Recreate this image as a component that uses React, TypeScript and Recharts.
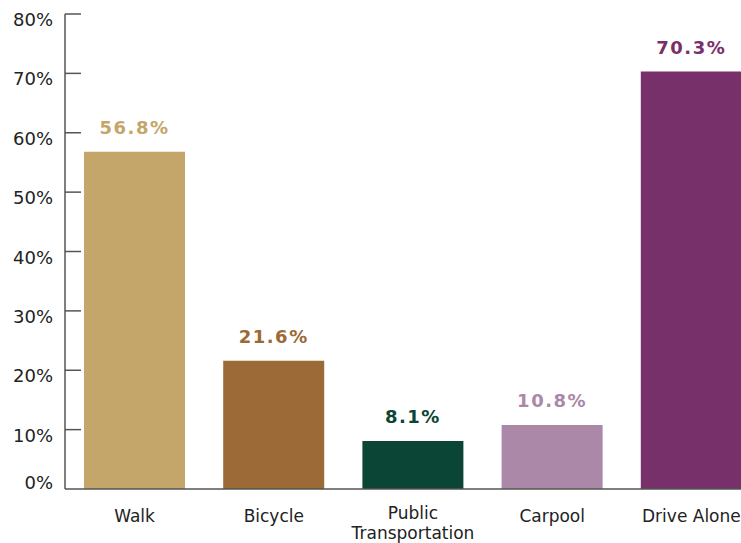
import { BarChart, Bar, XAxis, YAxis, Cell, LabelList } from 'recharts';

const categories = ['Walk', 'Bicycle', 'Public Transportation', 'Carpool', 'Drive Alone'];
const shares = [56.8, 21.6, 8.1, 10.8, 70.3];
const barColors = ['#c4a66b', '#9b6a36', '#0b4535', '#ab88a8', '#78306b'];
const yTicks = [0, 10, 20, 30, 40, 50, 60, 70, 80];

const data = categories.map((name, i) => ({ name, value: shares[i] }));

const FONT = '"DejaVu Sans", sans-serif';
const AXIS = '#555555';

// labels sit a bit below their tick, except 0% which sits above the baseline
const YTick = (props: any) => {
  const { x, y, payload } = props;
  const axisX = x + 12;
  return (
    <g>
      {payload.value !== 0 && (
        <line x1={axisX} x2={axisX + 16} y1={y} y2={y} stroke={AXIS} strokeWidth={1.5} />
      )}
      <text
        x={x}
        y={y}
        dy={payload.value === 0 ? 0 : 12}
        textAnchor="end"
        fill="#222"
        fontSize={18}
        fontFamily={FONT}
      >
        {payload.value}%
      </text>
    </g>
  );
};

const XTick = (props: any) => {
  const { x, y, payload } = props;
  const lines: string[] = payload.value.length > 12 ? payload.value.split(' ') : [payload.value];
  const first = lines.length > 1 ? 22 : 25;
  return (
    <text x={x} y={y} textAnchor="middle" fill="#222" fontSize={17} fontFamily={FONT}>
      {lines.map((l, i) => (
        <tspan key={i} x={x} dy={i === 0 ? first : 20}>
          {l}
        </tspan>
      ))}
    </text>
  );
};

const ValueLabel = (props: any) => {
  const { x, y, width, value, index } = props;
  return (
    <text
      x={x + width / 2}
      y={y - 18}
      textAnchor="middle"
      fill={barColors[index]}
      fontSize={18}
      fontWeight="bold"
      fontFamily={FONT}
      letterSpacing={1.5}
    >
      {value}%
    </text>
  );
};

export default function App() {
  return (
    <div
      style={{
        position: 'fixed',
        left: 0,
        top: 0,
        width: 741,
        height: 543,
        overflow: 'hidden',
        background: '#fff',
      }}
    >
      <BarChart width={761} height={543} data={data} margin={{ top: 14, right: 0, bottom: 0, left: 0 }}>
        <XAxis
          dataKey="name"
          height={54}
          tick={<XTick />}
          tickLine={false}
          axisLine={{ stroke: AXIS, strokeWidth: 1.5 }}
          interval={0}
        />
        <YAxis
          width={65}
          domain={[0, 80]}
          ticks={yTicks}
          tick={<YTick />}
          tickLine={false}
          tickSize={0}
          tickMargin={12}
          axisLine={{ stroke: AXIS, strokeWidth: 1.5 }}
          interval={0}
        />
        <Bar dataKey="value" barSize={101} isAnimationActive={false}>
          {data.map((_, i) => (
            <Cell key={`cell-${i}`} fill={barColors[i]} />
          ))}
          <LabelList dataKey="value" content={<ValueLabel />} />
        </Bar>
      </BarChart>
    </div>
  );
}
